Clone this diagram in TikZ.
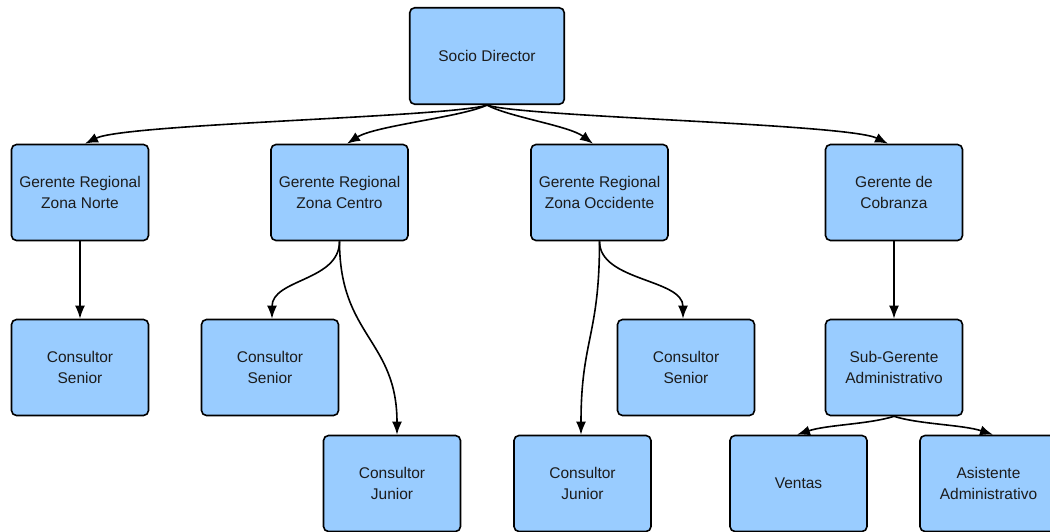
\documentclass[tikz,border=0pt]{standalone}
\usepackage{fontspec}
\setmainfont{Liberation Sans}
\usetikzlibrary{arrows.meta,calc}
\definecolor{boxblue}{HTML}{99CCFF}
\definecolor{textdark}{HTML}{1C1C1C}

\begin{document}
\begin{tikzpicture}[x=1pt,y=-1pt,
  box/.style={draw=black, line width=1.6pt, fill=boxblue, rounded corners=5pt,
    minimum width=137pt, minimum height=96pt, inner sep=0pt, align=center,
    font=\fontsize{15.5}{21.5}\selectfont, text=textdark},
  link/.style={draw=black, line width=1.6pt, -{Latex[length=13pt,width=10pt]}}
]
\useasboundingbox (0,0) rectangle (1050,531);
\clip (0,0) rectangle (1050,531);

% top level
\node[box, minimum width=154.5pt, minimum height=96.5pt] (sd) at (487,56) {Socio Director};

% regional managers
\node[box] (gn) at (80,192.5) {Gerente Regional\\Zona Norte};
\node[box] (gc) at (339.5,192.5) {Gerente Regional\\Zona Centro};
\node[box] (go) at (599.5,192.5) {Gerente Regional\\Zona Occidente};
\node[box] (gb) at (894,192.5) {Gerente de\\Cobranza};

% third level
\node[box] (cn) at (80,367.5) {Consultor\\Senior};
\node[box] (cs) at (270,367.5) {Consultor\\Senior};
\node[box] (os) at (686,367.5) {Consultor\\Senior};
\node[box] (sg) at (894,367.5) {Sub-Gerente\\Administrativo};

% fourth level
\node[box] (cj) at (392,483.5) {Consultor\\Junior};
\node[box] (oj) at (582.5,483.5) {Consultor\\Junior};
\node[box] (ve) at (798.5,483.5) {Ventas};
\node[box] (as) at (988.5,483.5) {Asistente\\Administrativo};

% connectors from the director
\draw[link] (sd.south) .. controls +(-35,12) and +(40,-20) .. ($(gn.north)+(5,0)$);
\draw[link] (sd.south) .. controls +(-25,12) and +(28,-18) .. ($(gc.north)+(7.5,0)$);
\draw[link] (sd.south) .. controls +(22,12) and +(-24,-18) .. ($(go.north)+(-6.5,0)$);
\draw[link] (sd.south) .. controls +(35,12) and +(-40,-20) .. ($(gb.north)+(-6,0)$);

% regional branches
\draw[link] (gn.south) -- (cn.north);
\draw[link] (gc.south) .. controls +(0,40) and +(0,-40) .. ($(cs.north)+(2,0)$);
\draw[link] (gc.south) .. controls +(0,95) and +(0,-95) .. ($(cj.north)+(5,0)$);
\draw[link] (go.south) .. controls +(0,95) and +(0,-95) .. ($(oj.north)+(-1.5,0)$);
\draw[link] (go.south) .. controls +(0,40) and +(0,-40) .. ($(os.north)+(-3,0)$);
\draw[link] (gb.south) -- (sg.north);

% administrative branch
\draw[link] (sg.south) .. controls +(-25,8) and +(30,-10) .. ($(ve.north)+(-1.5,0)$);
\draw[link] (sg.south) .. controls +(25,8) and +(-30,-10) .. ($(as.north)+(4.5,0)$);
\end{tikzpicture}
\end{document}
